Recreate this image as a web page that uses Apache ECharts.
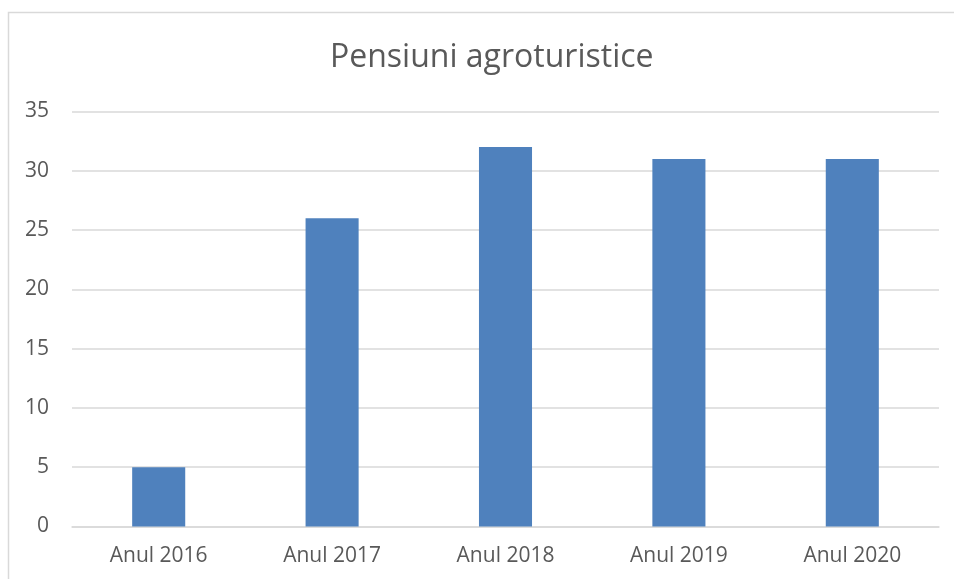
<!DOCTYPE html>
<html><head><meta charset="utf-8">
<script src="https://cdn.jsdelivr.net/npm/echarts@6/dist/echarts.min.js"></script>
<style>html,body{margin:0;padding:0;background:#fff}#c{width:954px;height:579px}</style>
</head><body><div id="c"></div>
<script>
const categories = ['Anul 2016','Anul 2017','Anul 2018','Anul 2019','Anul 2020'];
const values = [5, 26, 32, 31, 31];
const yTicks = {min: 0, max: 35, interval: 5};
const titleText = 'Pensiuni agroturistice';

const chart = echarts.init(document.getElementById('c'), null, {renderer: 'canvas'});
const font = '"Open Sans", "Noto Sans", sans-serif';
chart.setOption({
  animation: false,
  backgroundColor: '#fff',
  graphic: [{
    type: 'rect', shape: {x: 8.5, y: 12.5, width: 960, height: 600},
    style: {fill: 'none', stroke: '#d9d9d9', lineWidth: 1.5}, silent: true
  }],
  title: {
    text: titleText, left: 325, top: 37,
    textStyle: {color: '#595959', fontFamily: font, fontWeight: 'normal', fontSize: 32}
  },
  grid: {left: 72, right: 15, top: 111.5, bottom: 52.5, containLabel: false},
  xAxis: {
    type: 'category', data: categories,
    axisLine: {show: true, lineStyle: {color: '#d9d9d9', width: 1.5}},
    axisTick: {show: false},
    axisLabel: {color: '#595959', fontFamily: font, fontSize: 21, margin: 19}
  },
  yAxis: {
    type: 'value', min: yTicks.min, max: yTicks.max, interval: yTicks.interval,
    axisLine: {show: false}, axisTick: {show: false},
    splitLine: {lineStyle: {color: '#d9d9d9', width: 1.5}},
    axisLabel: {color: '#595959', fontFamily: font, fontSize: 21, margin: 23, align: 'right'}
  },
  series: [{
    type: 'bar', data: values, barWidth: '30.6%',
    itemStyle: {color: '#4f81bd'}
  }]
});
</script></body></html>
